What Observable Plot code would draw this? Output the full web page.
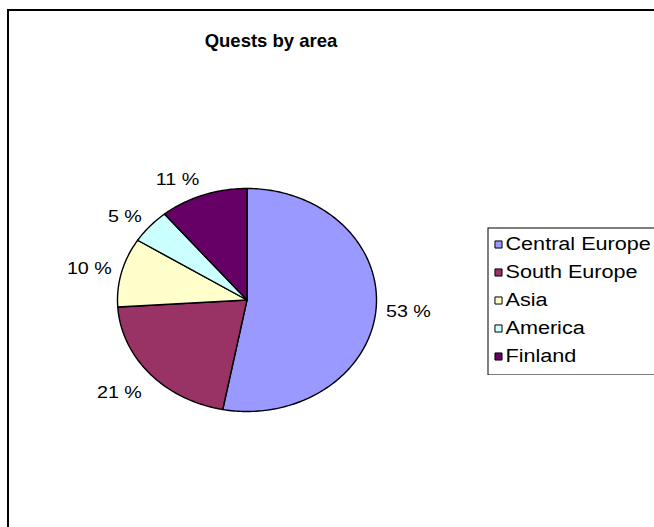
<!DOCTYPE html>
<html><head><meta charset="utf-8">
<script src="https://cdn.jsdelivr.net/npm/d3@7"></script>
<script src="https://cdn.jsdelivr.net/npm/@observablehq/plot@0.6"></script>
<style>
html,body{margin:0;padding:0;background:#fff;overflow:hidden;width:654px;height:527px;}
#wrap{position:relative;width:654px;height:527px;overflow:hidden;background:#fff;}
#wrap svg{max-width:none !important;display:block;}
#main{position:absolute;left:0;top:0;width:700px;height:560px;}
#border{position:absolute;left:7px;top:9px;width:800px;height:800px;border-left:2px solid #000;border-top:2px solid #000;pointer-events:none;}
#legend{position:absolute;left:487px;top:227px;width:240px;height:150px;}
</style></head><body><div id="wrap"><div id="main"></div><div id="border"></div><div id="legend"></div></div>
<script>
const title = "Quests by area";
const categories = ["Central Europe", "South Europe", "Asia", "America", "Finland"];
const shares = [53, 21, 10, 5, 11];
const colors = ["#9999FF", "#993366", "#FFFFCC", "#CCFFFF", "#660066"];
const labels = ["53 %", "21 %", "10 %", "5 %", "11 %"];

const FONT = "'Liberation Sans', Arial, sans-serif";
const W = 654, H = 527;
const mL = 8, mT = 10;
const cx = 246.5, cy = 299.5, rx = 129.5, ry = 111.5;

// slice polygons (clockwise from 12 o'clock), unit ellipse coords
const total = d3.sum(shares);
let cum = 0;
const pts = [];
const slices = categories.map((c, i) => {
  const a0 = cum / total * 2 * Math.PI;
  cum += shares[i];
  const a1 = cum / total * 2 * Math.PI;
  return {c, i, a0, a1};
});
for (const s of slices) {
  pts.push({c: s.c, x: 0, y: 0});
  const n = Math.max(2, Math.ceil((s.a1 - s.a0) / (Math.PI / 180)));
  for (let k = 0; k <= n; k++) {
    const t = s.a0 + (s.a1 - s.a0) * k / n;
    pts.push({c: s.c, x: Math.sin(t), y: Math.cos(t)});
  }
  pts.push({c: s.c, x: 0, y: 0});
}

// label positions: outside the edge at mid-angle, box corner facing the pie
const LFS = 17, LSTRETCH = 1.16;
const ctx = document.createElement("canvas").getContext("2d");
ctx.font = `${LFS}px ${FONT}`;
const gap = 10;
const lab = slices.map(s => {
  const m = (s.a0 + s.a1) / 2;
  const px = rx * Math.sin(m), py = -ry * Math.cos(m); // pixel offsets, y down
  const len = Math.hypot(px, py);
  const ux = px / len, uy = py / len;
  const a = ctx.measureText(labels[s.i]).width * LSTRETCH / 2, b = LFS * 0.4;
  const dxp = px + ux * gap + Math.sign(ux) * a;
  const dyp = py + uy * gap + uy * b * (uy > 0.3 ? 3 : 1);
  return {t: labels[s.i], x: dxp / rx, y: -dyp / ry};
});

const chart = Plot.plot({
  width: W, height: H,
  marginLeft: mL, marginTop: mT, marginRight: 0, marginBottom: 0,
  style: {fontFamily: FONT, background: "white"},
  x: {domain: [(mL - cx) / rx, (W - cx) / rx], axis: null},
  y: {domain: [(cy - H) / ry, (cy - mT) / ry], axis: null},
  color: {domain: categories, range: colors},
  marks: [
    Plot.text([title], {x: () => (270.5 - cx) / rx, frameAnchor: "top", text: d => d, dy: 31,
      fontSize: 18.5, fontWeight: "bold", fill: "black", lineAnchor: "middle"}),
    Plot.line(pts, {x: "x", y: "y", z: "c", fill: "c", stroke: "black", strokeWidth: 1.4,
      strokeLinejoin: "round", curve: "linear"}),
    Plot.text(lab, {x: "x", y: "y", text: "t", fontSize: LFS, fill: "black", lineAnchor: "middle",
      className: "stretch-label"})
  ]
});
document.getElementById("main").appendChild(chart);

const legend = Plot.plot({
  width: 240, height: 148,
  marginLeft: 0, marginTop: 0, marginRight: 0, marginBottom: 0,
  style: {fontFamily: FONT, background: "white"},
  y: {type: "point", domain: categories, range: [16, 130], padding: 0, axis: null},
  color: {domain: categories, range: colors},
  marks: [
    Plot.frame({stroke: "black", strokeWidth: 1, inset: 0.5}),
    Plot.dot(categories, {y: d => d, frameAnchor: "left", dx: 11, symbol: "square", r: 4,
      fill: d => d, stroke: "black", strokeWidth: 1}),
    Plot.text(categories, {y: d => d, frameAnchor: "left", dx: 18, text: d => d,
      textAnchor: "start", fontSize: 18, fill: "black", lineAnchor: "middle"})
  ]
});
document.getElementById("legend").appendChild(legend);

// emulate the horizontal stretch of the reference's lettering
function stretch(sel, f) {
  for (const t of document.querySelectorAll(sel)) {
    const len = t.getComputedTextLength();
    if (len > 0) {
      t.setAttribute("textLength", (len * f).toFixed(1));
      t.setAttribute("lengthAdjust", "spacingAndGlyphs");
    }
  }
}
stretch("#main .stretch-label text", LSTRETCH);
stretch("#legend svg text", 1.2);
</script>
</body></html>
